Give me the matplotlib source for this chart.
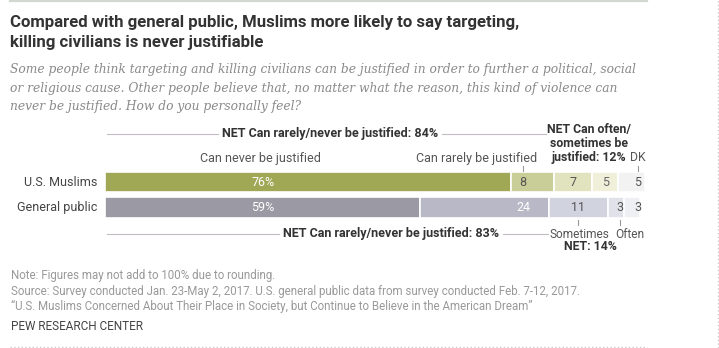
import numpy as np
import matplotlib
matplotlib.use("Agg")
import matplotlib.pyplot as plt
from matplotlib import font_manager

# Datos del grafico (porcentajes)
grupos = ["U.S. Muslims", "General public"]
categorias = ["Can never be justified", "Can rarely be justified",
              "Sometimes", "Often", "DK"]
musulmanes = [76, 8, 7, 5, 5]
publico = [59, 24, 11, 3, 3]
etiquetas_musulmanes = ["76%", "8", "7", "5", "5"]
etiquetas_publico = ["59%", "24", "11", "3", "3"]
net_rara_nunca = [84, 83]
net_a_veces = [12, 14]

colores = [
    ["#a0a856", "#c9ce99", "#e1e3bf", "#efefda", "#f1f2f1"],
    ["#9b9aa4", "#b9b8c6", "#d1d4df", "#e1e2e9", "#eef0f4"],
]
color_texto = [
    ["white", "#555555", "#555555", "#666666", "#555555"],
    ["white", "white", "#555555", "#555555", "#555555"],
]

# Fuentes
nombres = {f.name for f in font_manager.fontManager.ttflist}
sans = "Liberation Sans Narrow" if "Liberation Sans Narrow" in nombres else "Roboto"
plt.rcParams["font.family"] = [sans, "DejaVu Sans"]

W, H = 719, 348
fig = plt.figure(figsize=(W / 100, H / 100), dpi=100)
fx = lambda px: px / W
fy = lambda py: 1 - py / H

# Ejes de las barras: 0..101 % entre x=105 y x=645 px
ax = fig.add_axes([fx(105), fy(260), 540 / W, 140 / H])
paso = 25.5
ax.set_xlim(0, 101)
ax.set_ylim((260 - 182) / paso, (120 - 182) / paso)
ax.axis("off")
yd = lambda py: (py - 182) / paso
xd = lambda px: (px - 105) / 540 * 101

filas = [musulmanes, publico]
etiquetas = [etiquetas_musulmanes, etiquetas_publico]
centros = []
for i, fila in enumerate(filas):
    izq = np.concatenate([[0], np.cumsum(fila)[:-1]])
    ax.barh(i, fila, left=izq, height=0.82, color=colores[i],
            edgecolor="white", linewidth=1.2)
    centros.append(izq + np.array(fila) / 2)
centros = np.array(centros)

# posiciones de las etiquetas: columnas 0, 1 y 4 alineadas
pos = centros.copy()
pos[:, 0] = centros[:, 0].min()
pos[:, 1] = centros[:, 1].max() - 1.8
pos[0, 3] += 0.2
pos[1, 3] += 0.8
pos[:, 4] = centros[:, 4].max() + 1.2
for i in range(2):
    for j, t in enumerate(etiquetas[i]):
        ax.text(pos[i, j], i, t, ha="center", va="center", fontsize=9,
                color=color_texto[i][j])

ax.text(-1.5, 0, grupos[0], ha="right", va="center", fontsize=9, color="#444444")
ax.text(-1.5, 1, grupos[1], ha="right", va="center", fontsize=9, color="#444444")

gris = "#555555"
linea = "#c4bcc4"
renderer = fig.canvas.get_renderer()


def etiqueta_net(texto, xc, y, x0, x1):
    # texto en negrita con una linea fina a cada lado
    t = ax.text(xd(xc), yd(y), texto, ha="center", va="center", fontsize=9,
                fontweight="bold", color="#333333")
    bb = t.get_window_extent(renderer)
    izq = xd(bb.x0 - 4)
    der = xd(bb.x1 + 4)
    ax.plot([xd(x0), izq], [yd(y)] * 2, color=linea, lw=0.8, clip_on=False)
    ax.plot([der, xd(x1)], [yd(y)] * 2, color=linea, lw=0.8, clip_on=False)


# Encabezado superior
etiqueta_net(f"NET Can rarely/never be justified: {net_rara_nunca[0]}%", 330, 134, 107, 546)
ax.text(xd(589), yd(143.5), f"NET Can often/\nsometimes be\njustified: {net_a_veces[0]}%",
        ha="center", va="center", fontsize=8.8, fontweight="bold", color="#333333",
        linespacing=1.1)
ax.text(xd(260), yd(158.5), categorias[0], ha="center", va="center", fontsize=9, color=gris)
ax.text(xd(477), yd(158.5), categorias[1], ha="center", va="center", fontsize=9, color=gris)
ax.text(pos[0, 4], yd(157.5), "DK", ha="center", va="center", fontsize=8.8, color=gris)
for x in [pos[0, 1], pos[0, 4]]:
    ax.plot([x, x], [yd(166), yd(171)], color="#999999", lw=0.8, clip_on=False)

# Encabezado inferior
for x in [pos[1, 2], pos[1, 3]]:
    ax.plot([x, x], [yd(220), yd(225)], color="#999999", lw=0.8, clip_on=False)
etiqueta_net(f"NET Can rarely/never be justified: {net_rara_nunca[1]}%", 391, 234, 107, 548)
ax.text(xd(579), yd(234), categorias[2], ha="center", va="center", fontsize=8.6, color=gris)
ax.text(xd(630), yd(234), categorias[3], ha="center", va="center", fontsize=8.6, color=gris)
ax.text(xd(590), yd(246.5), f"NET: {net_a_veces[1]}%", ha="center", va="center",
        fontsize=8.8, fontweight="bold", color="#333333")

# Titulo y subtitulo
fig.text(fx(10), fy(22), "Compared with general public, Muslims more likely to say targeting,",
         ha="left", va="center", fontsize=12.1, fontweight="bold", color="#333333")
fig.text(fx(10), fy(42), "killing civilians is never justifiable",
         ha="left", va="center", fontsize=12.1, fontweight="bold", color="#333333")
sub = ["Some people think targeting and killing civilians can be justified in order to further a political, social",
       "or religious cause. Other people believe that, no matter what the reason, this kind of violence can",
       "never be justified. How do you personally feel?"]
for k, s in enumerate(sub):
    fig.text(fx(10), fy(70 + 18.3 * k), s, ha="left", va="center", fontsize=8.85,
             family="DejaVu Serif", style="italic", color="#8a8a8a")

# Notas
notas = ["Note: Figures may not add to 100% due to rounding.",
         "Source: Survey conducted Jan. 23-May 2, 2017. U.S. general public data from survey conducted Feb. 7-12, 2017.",
         "\u201cU.S. Muslims Concerned About Their Place in Society, but Continue to Believe in the American Dream\u201d"]
for k, s in enumerate(notas):
    fig.text(fx(11), fy(276 + 15 * k), s, ha="left", va="center", fontsize=8.3, color="#999999")
fig.text(fx(11), fy(327), "PEW RESEARCH CENTER", ha="left", va="center", fontsize=8.5, color="#444444")

# Lineas del marco
fig.add_artist(plt.Line2D([fx(10), fx(647)], [fy(0.8), fy(0.8)], color="#d2d8cf", lw=1.6))
fig.add_artist(plt.Line2D([fx(10), fx(647)], [fy(347), fy(347)], color="#cccccc", lw=1, ls=":"))
fig.add_artist(plt.Line2D([fx(717.5), fx(717.5)], [0, 1], color="#cccccc", lw=1, ls=":"))

fig.savefig("out.png", dpi=100, facecolor="white")
